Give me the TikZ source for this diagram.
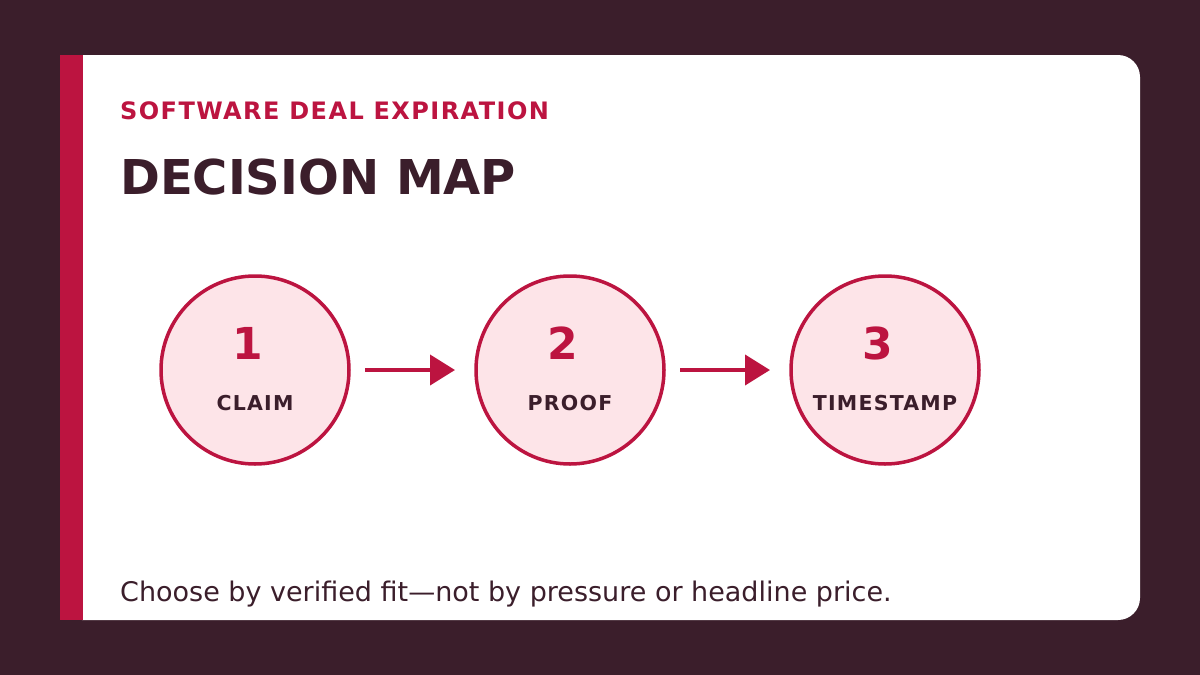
\documentclass[tikz,border=0pt]{standalone}
\usepackage{fontspec}
\setmainfont{DejaVu Sans}
\newfontfamily\spacedfont[LetterSpace=6]{DejaVu Sans}
\usetikzlibrary{arrows.meta,positioning}

\definecolor{plum}{HTML}{3B1E2B}
\definecolor{crimson}{HTML}{BC1440}
\definecolor{blush}{HTML}{FDE4E8}

\begin{document}
\begin{tikzpicture}[
  x=1pt, y=-1pt,
  step circle/.style={circle, draw=crimson, fill=blush, line width=3.5pt, minimum size=188pt, inner sep=0pt, outer sep=0pt},
  num/.style={text=crimson, font=\fontsize{44}{44}\selectfont\bfseries},
  lbl/.style={text=plum, font=\spacedfont\fontsize{20.5}{21}\selectfont\bfseries},
  arr/.style={-{Triangle[length=25pt, width=30pt]}, line width=4pt, draw=crimson, shorten <=16pt, shorten >=21pt},
  node distance=127pt
]
\fill[plum] (0,0) rectangle (1200,675);
\useasboundingbox (0,0) rectangle (1200,675);
\fill[white, rounded corners=22pt] (60,55) rectangle (1140,620);
\fill[crimson] (60,55) rectangle (83,620);

\node[anchor=base west, text=crimson, font=\spacedfont\fontsize{24}{24}\selectfont\bfseries, inner sep=0pt] (kicker) at (120,119) {SOFTWARE DEAL EXPIRATION};
\node[anchor=base west, text=plum, font=\fontsize{48}{48}\selectfont\bfseries, inner sep=0pt] (title) at (120,194) {DECISION MAP};

\node[step circle] (claim) at (255,370) {};
\node[step circle, right=of claim] (proof) {};
\node[step circle, right=of proof] (stamp) {};

\node[num] (n1) at ([xshift=-7pt, yshift=27pt]claim.center) {1};
\node[num] (n2) at ([xshift=-7pt, yshift=27pt]proof.center) {2};
\node[num] (n3) at ([xshift=-7pt, yshift=27pt]stamp.center) {3};
\node[lbl] (l1) at ([yshift=-33pt]claim.center) {CLAIM};
\node[lbl] (l2) at ([yshift=-33pt]proof.center) {PROOF};
\node[lbl] (l3) at ([yshift=-33pt]stamp.center) {TIMESTAMP};

\draw[arr] (claim) -- (proof);
\draw[arr] (proof) -- (stamp);

\node[anchor=base west, text=plum, font=\fontsize{27}{28}\selectfont, inner sep=0pt] (note) at (120,601) {Choose by verified fit—not by pressure or headline price.};
\end{tikzpicture}
\end{document}
